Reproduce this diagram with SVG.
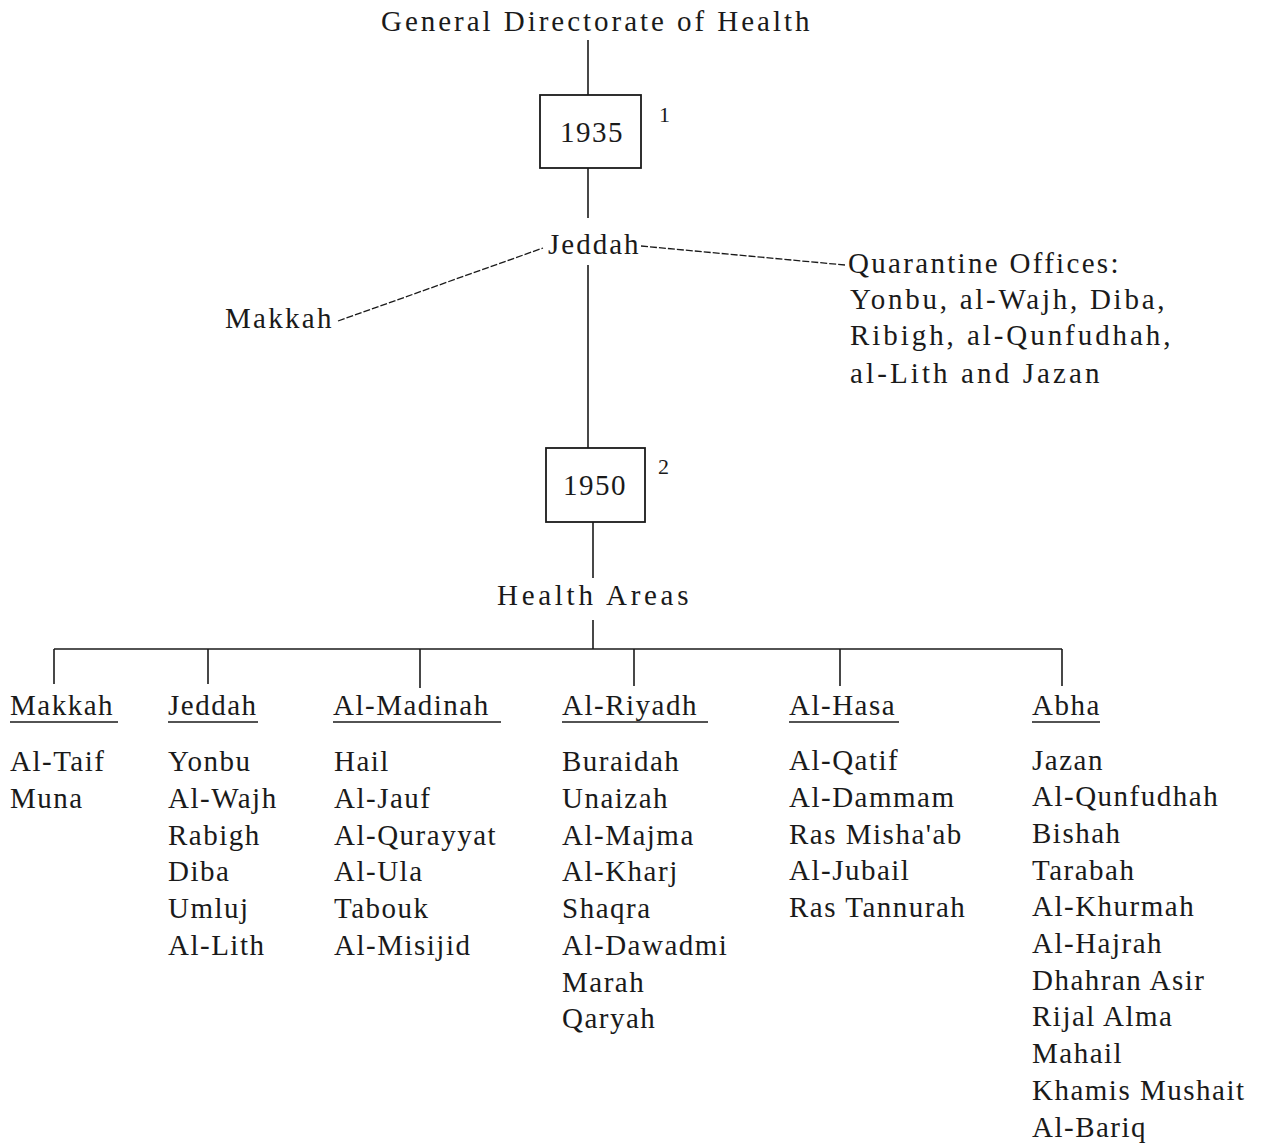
<svg xmlns="http://www.w3.org/2000/svg" width="1284" height="1144" viewBox="0 0 1284 1144">
<style>
text{font-family:"Liberation Serif","DejaVu Serif",serif;font-size:29px;fill:#1a1a1a;letter-spacing:1.5px}
.ln{stroke:#1a1a1a;stroke-width:1.6;fill:none}
.ds{stroke:#1a1a1a;stroke-width:1.3;fill:none;stroke-dasharray:7 2}
.bx{stroke:#1a1a1a;stroke-width:1.8;fill:none}
.sup{font-size:22px}
.mid{text-anchor:middle}
</style>
<rect width="1284" height="1144" fill="#fff"/>
<g id="connectors">
<line class="ln" x1="588" y1="40" x2="588" y2="95"/>
<line class="ln" x1="588" y1="168" x2="588" y2="218"/>
<line class="ln" x1="588" y1="265" x2="588" y2="448"/>
<line class="ds" x1="338" y1="321" x2="543" y2="248"/>
<line class="ds" x1="641" y1="246" x2="845" y2="265"/>
<line class="ln" x1="593" y1="522" x2="593" y2="578"/>
<line class="ln" x1="593" y1="620" x2="593" y2="649"/>
<line class="ln" x1="54" y1="649" x2="1062" y2="649"/>
<line class="ln" x1="54" y1="649" x2="54" y2="684"/>
<line class="ln" x1="208" y1="649" x2="208" y2="684"/>
<line class="ln" x1="420" y1="649" x2="420" y2="688"/>
<line class="ln" x1="634" y1="649" x2="634" y2="686"/>
<line class="ln" x1="840" y1="649" x2="840" y2="686"/>
<line class="ln" x1="1062" y1="649" x2="1062" y2="686"/>
</g>
<g id="root"><text x="381" y="31" textLength="430">General Directorate of Health</text></g>
<g id="n1935"><rect class="bx" x="540" y="95" width="101" height="73"/><text class="mid" x="592" y="142">1935</text><text class="sup" x="659" y="122">1</text></g>
<g id="jeddah-top"><text x="548" y="254" textLength="92">Jeddah</text></g>
<g id="makkah-top"><text x="225" y="328" textLength="108">Makkah</text></g>
<g id="quarantine">
<text x="848" y="273" textLength="272">Quarantine Offices:</text>
<text x="850" y="309" textLength="316">Yonbu, al-Wajh, Diba,</text>
<text x="850" y="345" textLength="322">Ribigh, al-Qunfudhah,</text>
<text x="850" y="383" textLength="251">al-Lith and Jazan</text>
</g>
<g id="n1950"><rect class="bx" x="546" y="448" width="99" height="74"/><text class="mid" x="595" y="495">1950</text><text class="sup" x="658" y="474">2</text></g>
<g id="health-areas"><text x="497" y="605" textLength="193">Health Areas</text></g>
<g id="col-makkah">
<text x="10" y="715">Makkah</text><line class="ln" x1="10" y1="722" x2="118" y2="722"/>
<text x="10" y="771">Al-Taif</text><text x="10" y="808">Muna</text>
</g>
<g id="col-jeddah">
<text x="168" y="715">Jeddah</text><line class="ln" x1="168" y1="722" x2="258" y2="722"/>
<text x="168" y="771">Yonbu</text><text x="168" y="808">Al-Wajh</text><text x="168" y="845">Rabigh</text><text x="168" y="881">Diba</text><text x="168" y="918">Umluj</text><text x="168" y="955">Al-Lith</text>
</g>
<g id="col-madinah">
<text x="333" y="715">Al-Madinah</text><line class="ln" x1="333" y1="722" x2="501" y2="722"/>
<text x="334" y="771">Hail</text><text x="334" y="808">Al-Jauf</text><text x="334" y="845">Al-Qurayyat</text><text x="334" y="881">Al-Ula</text><text x="334" y="918">Tabouk</text><text x="334" y="955">Al-Misijid</text>
</g>
<g id="col-riyadh">
<text x="562" y="715">Al-Riyadh</text><line class="ln" x1="562" y1="722" x2="708" y2="722"/>
<text x="562" y="771">Buraidah</text><text x="562" y="808">Unaizah</text><text x="562" y="845">Al-Majma</text><text x="562" y="881">Al-Kharj</text><text x="562" y="918">Shaqra</text><text x="562" y="955">Al-Dawadmi</text><text x="562" y="992">Marah</text><text x="562" y="1028">Qaryah</text>
</g>
<g id="col-hasa">
<text x="789" y="715">Al-Hasa</text><line class="ln" x1="789" y1="722" x2="899" y2="722"/>
<text x="789" y="770">Al-Qatif</text><text x="789" y="807">Al-Dammam</text><text x="789" y="844">Ras Misha'ab</text><text x="789" y="880">Al-Jubail</text><text x="789" y="917">Ras Tannurah</text>
</g>
<g id="col-abha">
<text x="1032" y="715">Abha</text><line class="ln" x1="1032" y1="722" x2="1100" y2="722"/>
<text x="1032" y="770">Jazan</text><text x="1032" y="806">Al-Qunfudhah</text><text x="1032" y="843">Bishah</text><text x="1032" y="880">Tarabah</text><text x="1032" y="916">Al-Khurmah</text><text x="1032" y="953">Al-Hajrah</text><text x="1032" y="990">Dhahran Asir</text><text x="1032" y="1026">Rijal Alma</text><text x="1032" y="1063">Mahail</text><text x="1032" y="1100">Khamis Mushait</text><text x="1032" y="1137">Al-Bariq</text>
</g>
</svg>
